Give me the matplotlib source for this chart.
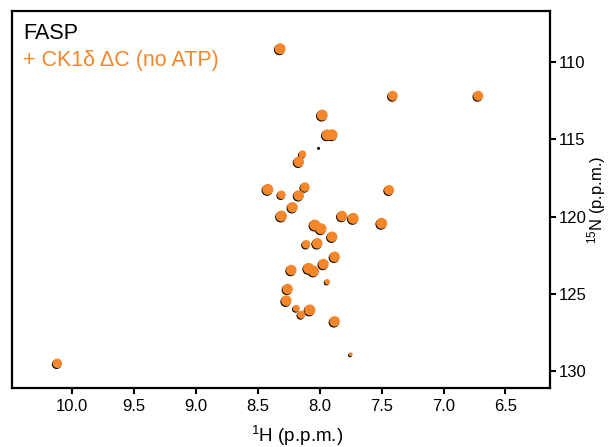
import matplotlib
matplotlib.use("Agg")
import matplotlib.pyplot as plt

plt.rcParams["font.family"] = ["Liberation Sans", "DejaVu Sans"]
plt.rcParams["mathtext.default"] = "regular"

ORANGE = "#F5872A"

# CK1d dC (no ATP) peaks: 1H, 15N (p.p.m.) and apparent spot diameter (px)
ck_h = [8.32, 7.41, 6.72, 7.98, 7.94, 7.90, 8.14, 8.17, 8.42, 8.31,
        8.12, 8.17, 7.44, 8.22, 8.31, 7.82, 7.73, 7.50, 8.04, 7.99,
        7.90, 8.11, 8.02, 7.88, 8.23, 8.09, 8.05, 7.97, 7.94, 8.26,
        8.27, 8.19, 8.15, 8.08, 7.88, 7.75, 10.12]
ck_n = [109.12, 112.17, 112.17, 113.42, 114.70, 114.70, 115.95, 116.45, 118.24, 118.59,
        118.09, 118.63, 118.28, 119.40, 119.97, 119.97, 120.12, 120.44, 120.55, 120.79,
        121.31, 121.80, 121.74, 122.61, 123.47, 123.36, 123.53, 123.08, 124.23, 124.70,
        125.46, 125.95, 126.37, 126.06, 126.80, 128.94, 129.52]
ck_size = [11, 10, 10, 11, 11, 11, 7.5, 10.5, 11, 8.5,
           9.5, 10.5, 10, 10.5, 11, 10.5, 11, 11, 11, 11,
           10.5, 8.5, 10.5, 10.5, 10.5, 11, 11, 10.5, 5.5, 10.5,
           10.5, 7, 8, 11, 10.5, 4, 9.5]

# FASP alone peaks (black)
fasp_h = [8.326, 7.416, 6.726, 7.986, 7.946, 7.906, 8.146, 8.176, 8.426, 8.316,
          8.126, 8.176, 7.446, 8.226, 8.316, 7.826, 7.736, 7.506, 8.046, 7.996,
          7.906, 8.116, 8.026, 7.886, 8.236, 8.096, 8.056, 7.976, 7.946, 8.266,
          8.276, 8.196, 8.156, 8.086, 7.886, 7.756, 10.126, 8.01]
fasp_n = [109.18, 112.23, 112.23, 113.48, 114.76, 114.76, 116.01, 116.51, 118.30, 118.65,
          118.15, 118.69, 118.34, 119.46, 120.03, 120.03, 120.18, 120.50, 120.61, 120.85,
          121.37, 121.86, 121.80, 122.67, 123.53, 123.42, 123.59, 123.14, 124.29, 124.76,
          125.52, 126.01, 126.43, 126.12, 126.86, 129.00, 129.58, 115.58]
fasp_size = [11, 10, 10, 11, 11, 11, 7.5, 10.5, 11, 8.5,
             9.5, 10.5, 10, 10.5, 11, 10.5, 11, 11, 11, 11,
             10.5, 8.5, 10.5, 10.5, 10.5, 11, 11, 10.5, 5.5, 10.5,
             10.5, 7, 8, 11, 10.5, 4, 9.5, 3]

x_ticks = [10.0, 9.5, 9.0, 8.5, 8.0, 7.5, 7.0, 6.5]
y_ticks = [110, 115, 120, 125, 130]


def px_to_area(sizes):
    return [(s * 0.72) ** 2 for s in sizes]


fig = plt.figure(figsize=(6.16, 4.47), dpi=100)
ax = fig.add_axes([0.0187, 0.1313, 0.8742, 0.8441])

ax.scatter(fasp_h, fasp_n, s=px_to_area(fasp_size), color="black",
           linewidths=0, zorder=2)
ax.scatter(ck_h, ck_n, s=px_to_area(ck_size), color=ORANGE,
           linewidths=0, zorder=3)

ax.set_xlim(10.49, 6.14)
ax.set_ylim(131.14, 106.67)

ax.set_xticks(x_ticks)
ax.set_xticklabels([f"{t:.1f}" for t in x_ticks])
ax.set_yticks(y_ticks)

ax.yaxis.tick_right()
ax.yaxis.set_label_position("right")

for side in ax.spines.values():
    side.set_linewidth(1.6)

ax.tick_params(axis="both", direction="out", length=4.5, width=1.5,
               labelsize=12, colors="black")
ax.tick_params(axis="x", pad=3.5)
ax.tick_params(axis="y", pad=2)

ax.set_xlabel("$^{1}$H (p.p.m.)", fontsize=13.5)
ax.xaxis.set_label_coords(0.53, -0.095)
ax.set_ylabel("$^{15}$N (p.p.m.)", fontsize=12, rotation=90)
ax.yaxis.set_label_coords(1.065, 0.5)

ax.text(0.021, 0.926, "FASP", transform=ax.transAxes, fontsize=15.5,
        color="black", va="baseline", ha="left")
ax.text(0.021, 0.854, "+ CK1δ ΔC (no ATP)", transform=ax.transAxes,
        fontsize=15.5, color=ORANGE, va="baseline", ha="left")

fig.savefig("out.png", dpi=100)
